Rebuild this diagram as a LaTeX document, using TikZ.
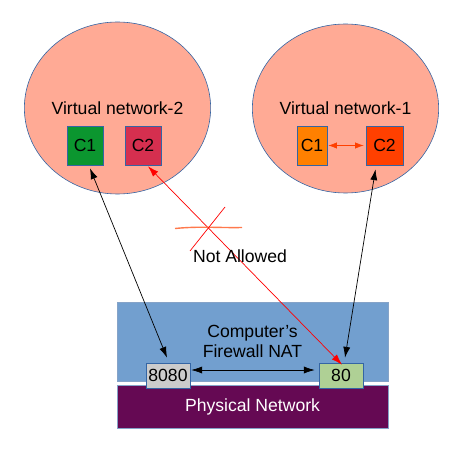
\documentclass[tikz,border=0pt]{standalone}
\usepackage{fontspec}
\setmainfont{Liberation Sans}
\usepackage{xcolor}
\usepackage{tikz}
\usetikzlibrary{arrows.meta}
\usetikzlibrary{shapes.geometric}
\definecolor{NetFill}{HTML}{FFAA95}
\definecolor{EdgeBlue}{HTML}{3465A4}
\definecolor{GreenBox}{HTML}{0B962F}
\definecolor{CrimsonBox}{HTML}{D52F4F}
\definecolor{OrangeBox}{HTML}{FF8000}
\definecolor{RedOrange}{HTML}{FF4000}
\definecolor{FireBlue}{HTML}{729FCF}
\definecolor{PhysPurple}{HTML}{650953}
\definecolor{PortGray}{HTML}{CCCCCC}
\definecolor{PortGreen}{HTML}{AFD095}

\begin{document}
\begin{tikzpicture}[
		x=1pt, y=-1pt,
		NetCircle/.style={ellipse,draw=EdgeBlue,fill=NetFill,line width=0.6pt,inner sep=0pt},
		Container/.style={rectangle,draw=EdgeBlue,line width=0.6pt,minimum height=39pt,inner sep=0pt},
		PortBox/.style={rectangle,draw=EdgeBlue,line width=0.6pt,minimum width=44pt,minimum height=25pt,inner sep=0pt},
		Layer/.style={rectangle,draw=EdgeBlue!60,line width=0.6pt,minimum width=271pt,inner sep=0pt},
		Link/.style={{Latex[length=3.8mm, width=2.5mm]}-{Latex[length=3.8mm, width=2.5mm]},line width=0.7pt},
		every node/.style={font=\fontsize{17.6}{19.5}\selectfont}
		]

		\useasboundingbox (0,0) rectangle (459,462);

		% the two virtual networks
		\node[NetCircle, minimum width=159pt, minimum height=172pt] (vn2) at (117.5,108) {Virtual network-2};
		\node[NetCircle, minimum width=155pt, minimum height=169pt] (vn1) at (345.5,108.5) {Virtual network-1};

		\node[Container, fill=GreenBox, minimum width=36pt] (vn2c1) at (85,145.5) {C1};
		\node[Container, fill=CrimsonBox, minimum width=36pt] (vn2c2) at (143,145.5) {C2};
		\node[Container, fill=OrangeBox, minimum width=30pt] (vn1c1) at (312,145.5) {C1};
		\node[Container, fill=RedOrange, minimum width=37pt] (vn1c2) at (384.5,145.5) {C2};

		\draw[Link, RedOrange, {Latex[length=3mm, width=2.2mm]}-{Latex[length=3mm, width=2.2mm]}]
			([xshift=1pt]vn1c1.east) -- ([xshift=-2pt]vn1c2.west);

		% the host
		\node[Layer, fill=FireBlue, minimum height=79pt, align=center] (firewall) at (252.5,341.5) {Computer's\\Firewall NAT};
		\node[Layer, fill=PhysPurple, minimum height=43pt, text=white] (physical) at (252.5,406.5) {Physical Network};

		\node[PortBox, fill=PortGray] (p8080) at (168,375.5) {8080};
		\node[PortBox, fill=PortGreen] (p80) at (341,375.5) {80};

		\draw[Link] ([xshift=1pt,yshift=5.5pt]p8080.east) -- ([xshift=-4pt,yshift=5.5pt]p80.west);

		% connections to the containers
		\draw[Link] ([xshift=-1pt,yshift=5pt]p8080.north) -- ([xshift=5pt,yshift=-3pt]vn2c1.south);
		\draw[Link] ([xshift=4pt,yshift=5pt]p80.north) -- ([xshift=-9pt,yshift=-4pt]vn1c2.south);
		\draw[Link, red] ([xshift=1pt,yshift=-2pt]p80.north) -- ([xshift=5pt,yshift=-1pt]vn2c2.south);

		% the cross
		\draw[RedOrange!70, line width=1.4pt] (175,228.5) .. controls (200,226) and (220,228) .. (242,227.5);
		\draw[red, line width=0.7pt] (190,251) -- (225,207);

		\node (notallowed) at (240,256) {Not Allowed};

		\end{tikzpicture}
\end{document}
